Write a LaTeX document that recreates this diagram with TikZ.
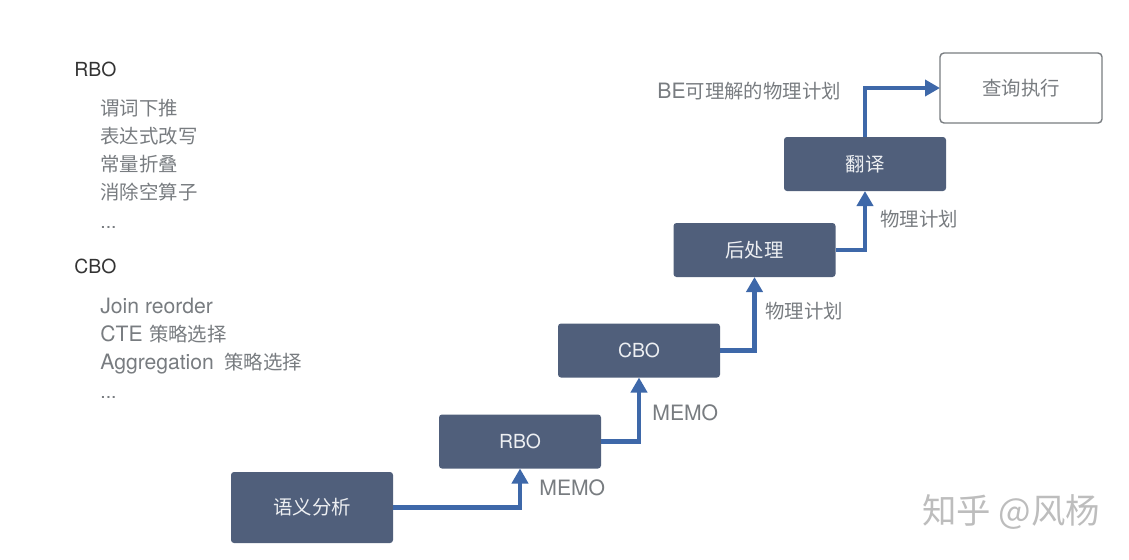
\documentclass[tikz,border=0pt]{standalone}
\usepackage{fontspec}
\setmainfont{Noto Sans CJK SC}
\newfontfamily\latinfont{TeX Gyre Heros}
\newfontfamily\notefont[Scale=1.09]{TeX Gyre Heros}
\usetikzlibrary{arrows.meta}
\definecolor{boxfill}{HTML}{505F7B}
\definecolor{flowblue}{HTML}{3E68A9}
\definecolor{labelgray}{HTML}{787C80}
\definecolor{headgray}{HTML}{333333}
\definecolor{markgray}{HTML}{BDBDBD}
\tikzset{
	stage/.style={rounded corners=1.5pt,fill=boxfill,text=white!90!boxfill,minimum width=81pt,minimum height=27pt,inner sep=0pt,outer sep=0pt},
	flow/.style={draw=flowblue,line width=2.2pt,-{Triangle[length=7.5pt,width=8pt]}},
	note/.style={text=labelgray,anchor=west,inner sep=0pt},
	head/.style={text=headgray,anchor=west,inner sep=0pt}
}

\begin{document}
\begin{tikzpicture}[x=.5pt,y=-.5pt,node font=\fontsize{9.7pt}{11pt}\selectfont]
	\useasboundingbox (0,0) rectangle (1129,559);

	\begin{scope}
		\node[stage,minimum height=35.5pt] (sem) at (312,507.5) {语义分析};
		\node[stage] (rbo) at (520,441.5) {\latinfont RBO};
		\node[stage] (cbo) at (639,350.5) {\latinfont CBO};
		\node[stage] (post) at (754.5,250) {后处理};
		\node[stage] (trans) at (865,164) {翻译};
		\node[draw=labelgray,line width=.7pt,rounded corners=2pt,minimum width=81pt,minimum height=35pt,inner sep=0pt,outer sep=0pt,text=labelgray] (exec) at (1021,88) {查询执行};
	\end{scope}

	\path[flow] (sem.east) -| (rbo.south);
	\path[flow] (rbo.east) -| (cbo.south);
	\path[flow] (cbo.east) -| (post.south);
	\path[flow] (post.east) -| (trans.south);
	\path[flow] (trans.north) |- (exec.west);

	\node[note] (lmemoa) at (539,488) {\notefont MEMO};
	\node[note] (lmemob) at (652,413) {\notefont MEMO};
	\node[note] (lplana) at (765,311) {物理计划};
	\node[note] (lplanb) at (880,219) {物理计划};
	\node[note] (lbe) at (657,91) {{\notefont BE}可理解的物理计划};

	\node[head] (hrbo) at (74,69) {\latinfont RBO};
	\node[note] (r1) at (100,108) {谓词下推};
	\node[note] (r2) at (100,136) {表达式改写};
	\node[note] (r3) at (100,164) {常量折叠};
	\node[note] (r4) at (100,192) {消除空算子};
	\node[note] (r5) at (100,227) {\latinfont ...};

	\node[head] (hcbo) at (74,266) {\latinfont CBO};
	\node[note] (c1) at (100,306) {\notefont Join reorder};
	\node[note] (c2) at (100,334) {{\notefont CTE}\hspace{1pt} 策略选择};
	\node[note] (c3) at (100,364) {{\notefont Aggregation}\hspace{3pt} 策略选择};
	\node[note] (c4) at (100,397) {\latinfont ...};

	\node[text=markgray,anchor=west,inner sep=0pt,font=\fontsize{17.2pt}{19pt}\selectfont] (mark) at (922,512) {知乎 @风杨};
\end{tikzpicture}
\end{document}
